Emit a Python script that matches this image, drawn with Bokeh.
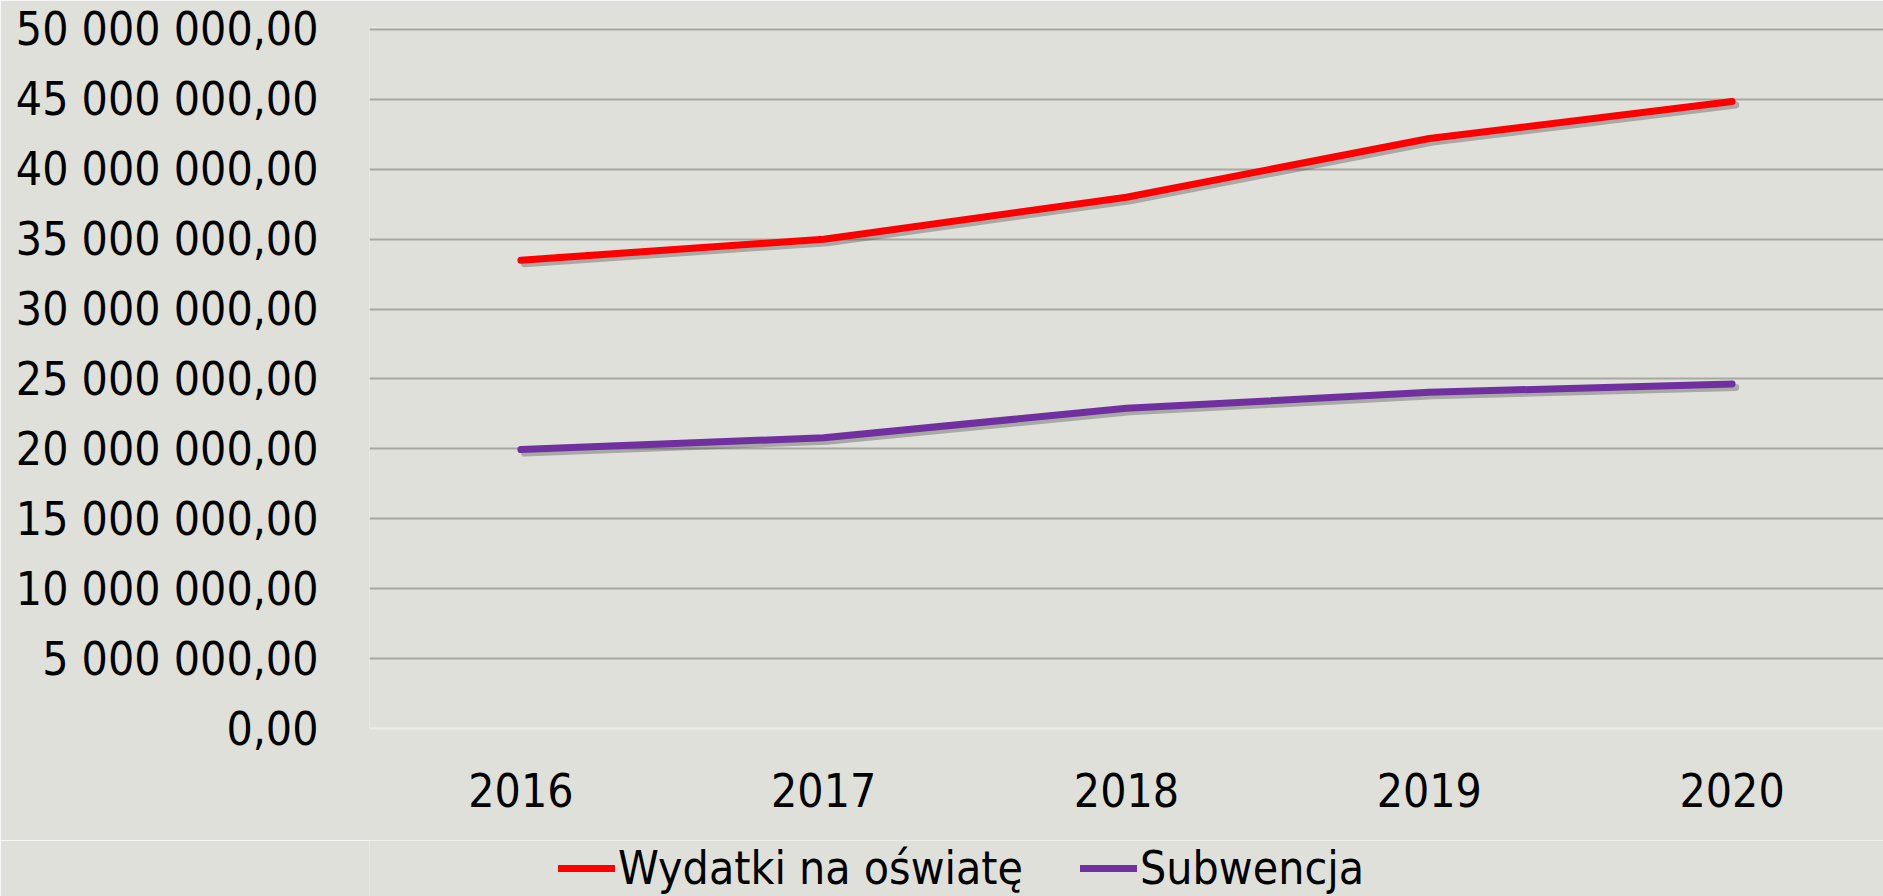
from bokeh.plotting import figure
from bokeh.layouts import column
from bokeh.models import ColumnDataSource, Range1d, FixedTicker, Legend, LegendItem, FactorRange
from bokeh.transform import dodge
from bokeh.embed import file_html
from bokeh.resources import INLINE

years = ["2016", "2017", "2018", "2019", "2020"]
wydatki = [33500000, 35000000, 38000000, 42200000, 44850000]
subwencja = [19950000, 20800000, 22900000, 24050000, 24650000]
series_names = ["Wydatki na oświatę", "Subwencja"]
series_colors = ["#ff0000", "#7030a0"]
y_ticks = [0, 5000000, 10000000, 15000000, 20000000, 25000000, 30000000, 35000000, 40000000, 45000000, 50000000]
y_tick_labels = ["0,00", "5 000 000,00", "10 000 000,00", "15 000 000,00", "20 000 000,00",
                 "25 000 000,00", "30 000 000,00", "35 000 000,00", "40 000 000,00",
                 "45 000 000,00", "50 000 000,00"]

BG = "#e0e0da"
FONT = "DejaVu Sans Condensed"
FS = "46px"

src = ColumnDataSource(dict(x=years, w=wydatki, s=subwencja))

p = figure(x_range=FactorRange(*years, range_padding=0), y_range=Range1d(0, 50143000),
           width=1883, height=840,
           output_backend="svg", toolbar_location=None,
           background_fill_color=BG, border_fill_color=BG,
           min_border_left=369, min_border_right=0, min_border_top=27, min_border_bottom=112)
p.outline_line_color = None

# gridlines
p.xgrid.grid_line_color = None
p.ygrid.grid_line_color = "#a8a8a3"
p.ygrid.grid_line_width = 2

# y axis
p.yaxis.ticker = FixedTicker(ticks=y_ticks)
p.yaxis.major_label_overrides = {t: l for t, l in zip(y_ticks, y_tick_labels)}
p.yaxis.axis_line_color = None
p.yaxis.major_tick_line_color = None
p.yaxis.minor_tick_line_color = None
p.yaxis.major_label_standoff = 45
p.yaxis.major_label_text_font = FONT
p.yaxis.major_label_text_font_size = FS
p.yaxis.major_label_text_color = "#000000"

# x axis
p.xaxis.axis_line_color = "#ececE7"
p.xaxis.axis_line_width = 2
p.xaxis.major_tick_line_color = None
p.xaxis.minor_tick_line_color = None
p.xaxis.major_label_standoff = 38
p.xaxis.major_label_text_font = FONT
p.xaxis.major_label_text_font_size = FS
p.xaxis.major_label_text_color = "#000000"

# shadows
p.line(x=dodge("x", 0.012, range=p.x_range), y=dodge("w", -250000), source=src,
       line_color="#404040", line_alpha=0.35, line_width=7, line_cap="round")
p.line(x=dodge("x", 0.012, range=p.x_range), y=dodge("s", -250000), source=src,
       line_color="#404040", line_alpha=0.35, line_width=7, line_cap="round")

p.line(x="x", y="w", source=src, line_color=series_colors[0], line_width=7, line_cap="round", line_join="round")
p.line(x="x", y="s", source=src, line_color=series_colors[1], line_width=7, line_cap="round", line_join="round")

# legend strip below the chart
lg = figure(width=1883, height=56, x_range=Range1d(0, 1), y_range=Range1d(0, 1),
            output_backend="svg", toolbar_location=None,
            background_fill_color=BG, border_fill_color=BG,
            min_border=0, min_border_left=0, min_border_right=0, min_border_top=0, min_border_bottom=0)
lg.outline_line_color = None
lg.xaxis.visible = False
lg.yaxis.visible = False
lg.grid.visible = False
items = []
for name, col in zip(series_names, series_colors):
    # proxy renderer kept outside the visible range; only used for the legend swatch
    rr = lg.line(x=[5, 6], y=[5, 6], line_color=col, line_width=7, line_cap="round")
    items.append(LegendItem(label=name, renderers=[rr]))

legend = Legend(items=items, orientation="horizontal", location=(189, 0))
legend.background_fill_alpha = 0
legend.border_line_color = None
legend.label_text_font = FONT
legend.label_text_font_size = FS
legend.label_text_color = "#000000"
legend.glyph_width = 57
legend.glyph_height = 56
legend.label_height = 56
legend.label_standoff = 3
legend.spacing = 57
legend.padding = 0
legend.margin = 0
lg.add_layout(legend, "center")

open("out.html", "w").write(file_html(column(p, lg, spacing=0), INLINE))
